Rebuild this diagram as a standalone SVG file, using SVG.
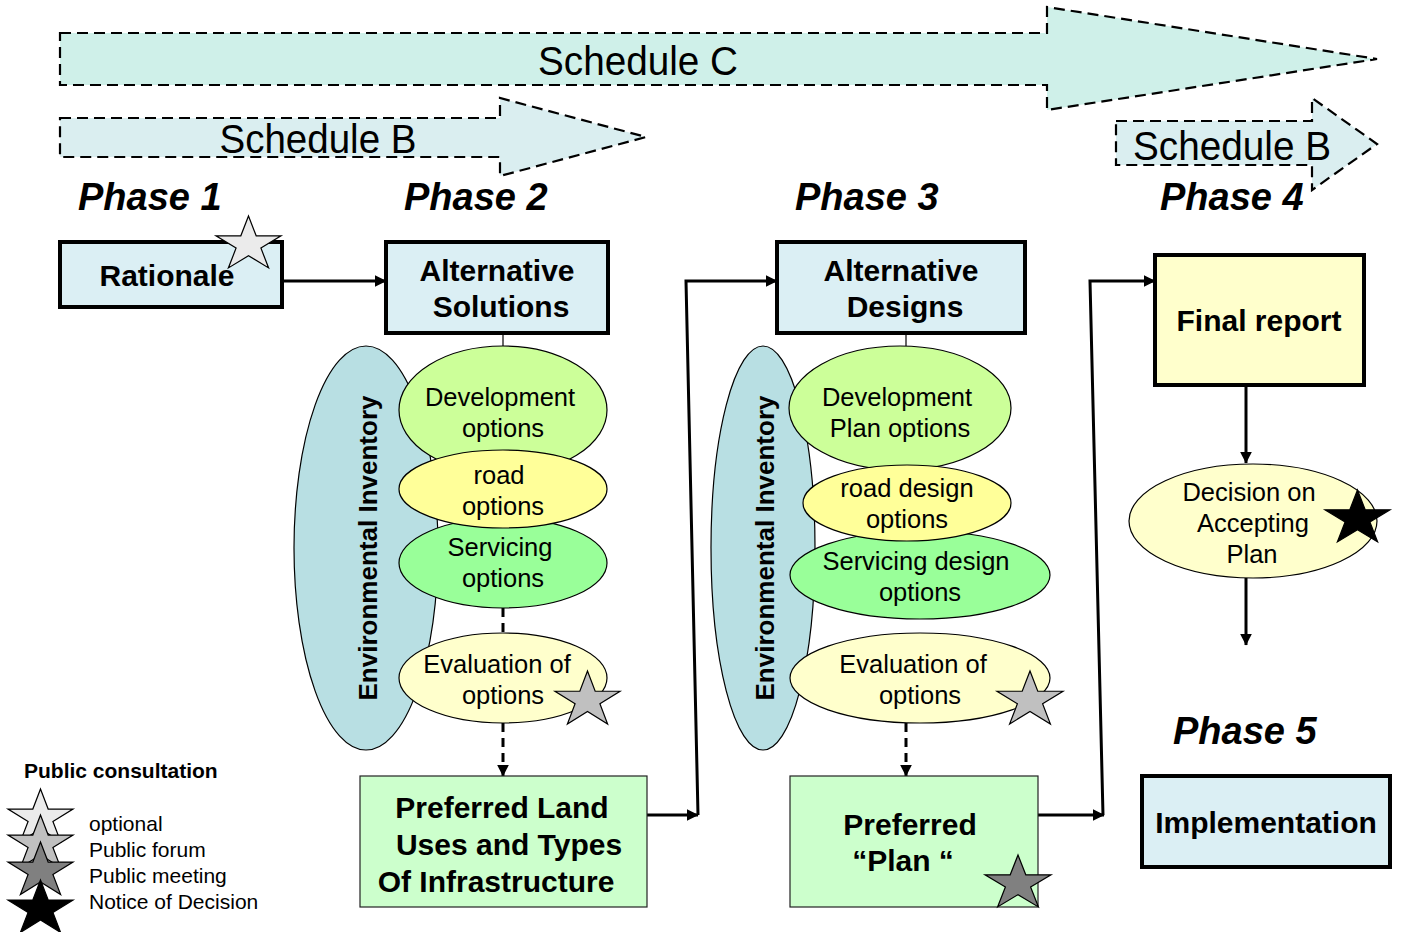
<svg xmlns="http://www.w3.org/2000/svg" xmlns:xlink="http://www.w3.org/1999/xlink" width="1402" height="932" viewBox="0 0 1402 932">
  <style>
    text { font-family: "Liberation Sans", Arial, sans-serif; fill: #000; }
    .sched { fill: none; stroke: #000; stroke-width: 2.2; stroke-dasharray: 11 6; }
    .schedtxt { font-size: 41px; text-anchor: middle; }
    .phase { font-size: 38px; font-weight: bold; font-style: italic; }
    .box { stroke: #000; stroke-width: 4; }
    .thinbox { stroke: #222; stroke-width: 1.2; }
    .blue { fill: #dbeff4; }
    .green { fill: #ccffcc; }
    .cream { fill: #ffffcc; }
    .btxt { font-size: 30px; font-weight: bold; text-anchor: middle; }
    .etxt { font-size: 25.5px; text-anchor: middle; }
    .oval { stroke: #000; stroke-width: 1.2; }
    .env { fill: #b8dfe3; }
    .dev { fill: #ccff99; }
    .road { fill: #ffff99; }
    .serv { fill: #99ff99; }
    .evaltxt { fill: #ffffcc; }
    .envtxt { font-size: 26px; font-weight: bold; text-anchor: middle; }
    .conn { fill: none; stroke: #000; stroke-width: 3; }
    .thin { fill: none; stroke: #000; stroke-width: 1.2; }
    .dash { fill: none; stroke: #000; stroke-width: 3; stroke-dasharray: 9 6; }
    .star { stroke: #000; stroke-width: 1.2; }
    .legtxt { font-size: 21px; }
  </style>
  <defs>
    <path id="star" vector-effect="non-scaling-stroke" d="M0,-1 L0.2245,-0.309 L0.951,-0.309 L0.363,0.118 L0.588,0.809 L0,0.382 L-0.588,0.809 L-0.363,0.118 L-0.951,-0.309 L-0.2245,-0.309 Z"/>
    <marker id="ah" viewBox="0 0 10 10" refX="9.5" refY="5" markerWidth="4" markerHeight="4" orient="auto">
      <path d="M0,0 L10,5 L0,10 Z" fill="#000"/>
    </marker>
  </defs>

  <!-- schedule bands -->
  <g id="schedule-c">
    <path d="M60,33 L1047,33 L1047,7 L1377,59 L1047,110 L1047,85 L60,85 Z" fill="#cff0e9"/>
    <path class="sched" d="M60,33 L1047,33 L1047,7 L1377,59 L1047,110 L1047,85 L60,85 Z"/>
    <text class="schedtxt" x="638" y="75" textLength="200" lengthAdjust="spacingAndGlyphs">Schedule C</text>
  </g>
  <g id="schedule-b-left">
    <path d="M60,118 L500,118 L500,98 L646,137 L500,176 L500,157 L60,157 Z" fill="#daeef0"/>
    <path class="sched" d="M60,118 L500,118 L500,98 L646,137 L500,176 L500,157 L60,157 Z"/>
    <text class="schedtxt" x="318" y="153" textLength="197" lengthAdjust="spacingAndGlyphs">Schedule B</text>
  </g>
  <g id="schedule-b-right">
    <path d="M1116,121 L1312,121 L1312,98 L1377,144 L1312,190 L1312,165 L1116,165 Z" fill="#daeef0"/>
    <path class="sched" d="M1116,121 L1312,121 L1312,98 L1377,144 L1312,190 L1312,165 L1116,165 Z"/>
    <text class="schedtxt" x="1232" y="160" textLength="198" lengthAdjust="spacingAndGlyphs">Schedule B</text>
  </g>

  <!-- phase headings -->
  <g id="phases">
    <text class="phase" x="78" y="210">Phase 1</text>
    <text class="phase" x="404" y="210">Phase 2</text>
    <text class="phase" x="795" y="210">Phase 3</text>
    <text class="phase" x="1160" y="210">Phase 4</text>
    <text class="phase" x="1173" y="744">Phase 5</text>
  </g>

  <!-- connectors -->
  <g id="connectors">
    <path class="conn" d="M282,281 L386,281" marker-end="url(#ah)"/>
    <path class="thin" d="M503,333 L503,347"/>
    <path class="dash" d="M503,608 L503,633"/>
    <path class="dash" d="M503,723 L503,776" marker-end="url(#ah)"/>
    <path class="conn" d="M647,815 L698,815" marker-end="url(#ah)"/>
    <path class="conn" d="M698,815 L686,281 L777,281" marker-end="url(#ah)"/>
    <path class="thin" d="M906,333 L906,346"/>
    <path class="dash" d="M906,723 L906,776" marker-end="url(#ah)"/>
    <path class="conn" d="M1038,815 L1104,815" marker-end="url(#ah)"/>
    <path class="conn" d="M1103,815 L1090,281 L1155,281" marker-end="url(#ah)"/>
    <path class="conn" d="M1246,385 L1246,463" marker-end="url(#ah)"/>
    <path class="conn" d="M1246,578 L1246,645" marker-end="url(#ah)"/>
  </g>

  <!-- phase 1 -->
  <g id="rationale">
    <rect class="box blue" x="60" y="242" width="222" height="65"/>
    <text class="btxt" x="167" y="286">Rationale</text>
    <use href="#star" class="star" fill="#ebebeb" transform="translate(248.5,244.7) scale(34.2,28.7)"/>
  </g>

  <!-- phase 2 -->
  <g id="alternative-solutions">
    <rect class="box blue" x="386" y="242" width="222" height="91"/>
    <text class="btxt" x="497" y="281">Alternative</text>
    <text class="btxt" x="501" y="317">Solutions</text>
  </g>
  <g id="env-inventory-2">
    <ellipse class="oval env" cx="366" cy="548" rx="72" ry="202"/>
    <text class="envtxt" transform="translate(377,548) rotate(-90)" textLength="305" lengthAdjust="spacingAndGlyphs">Environmental Inventory</text>
  </g>
  <g id="development-options">
    <ellipse class="oval dev" cx="503" cy="410" rx="104" ry="64"/>
    <text class="etxt" x="500" y="406">Development</text>
    <text class="etxt" x="503" y="437">options</text>
  </g>
  <g id="servicing-options">
    <ellipse class="oval serv" cx="503" cy="563" rx="104" ry="45"/>
    <text class="etxt" x="500" y="556">Servicing</text>
    <text class="etxt" x="503" y="587">options</text>
  </g>
  <g id="road-options">
    <ellipse class="oval road" cx="503" cy="489" rx="104" ry="39"/>
    <text class="etxt" x="499" y="484">road</text>
    <text class="etxt" x="503" y="515">options</text>
  </g>
  <g id="evaluation-2">
    <ellipse class="oval evaltxt" cx="503" cy="678" rx="104" ry="45"/>
    <text class="etxt" x="497" y="673">Evaluation of</text>
    <text class="etxt" x="503" y="704">options</text>
    <use href="#star" class="star" fill="#c0c0c0" transform="translate(587.5,700.3) scale(34.2,29.3)"/>
  </g>
  <g id="preferred-land-uses">
    <rect class="thinbox green" x="360" y="776" width="287" height="131"/>
    <text class="btxt" x="502" y="818">Preferred Land</text>
    <text class="btxt" x="509" y="855">Uses and Types</text>
    <text class="btxt" x="496" y="892">Of Infrastructure</text>
  </g>

  <!-- phase 3 -->
  <g id="alternative-designs">
    <rect class="box blue" x="777" y="242" width="248" height="91"/>
    <text class="btxt" x="901" y="281">Alternative</text>
    <text class="btxt" x="905" y="317">Designs</text>
  </g>
  <g id="env-inventory-3">
    <ellipse class="oval env" cx="763" cy="548" rx="52" ry="202"/>
    <text class="envtxt" transform="translate(774,548) rotate(-90)" textLength="305" lengthAdjust="spacingAndGlyphs">Environmental Inventory</text>
  </g>
  <g id="development-plan-options">
    <ellipse class="oval dev" cx="900" cy="408" rx="111" ry="62"/>
    <text class="etxt" x="897" y="406">Development</text>
    <text class="etxt" x="900" y="437">Plan options</text>
  </g>
  <g id="servicing-design-options">
    <ellipse class="oval serv" cx="920" cy="575" rx="130" ry="44"/>
    <text class="etxt" x="916" y="570">Servicing design</text>
    <text class="etxt" x="920" y="601">options</text>
  </g>
  <g id="road-design-options">
    <ellipse class="oval road" cx="907" cy="503" rx="104" ry="38"/>
    <text class="etxt" x="907" y="497">road design</text>
    <text class="etxt" x="907" y="528">options</text>
  </g>
  <g id="evaluation-3">
    <ellipse class="oval evaltxt" cx="920" cy="678" rx="130" ry="45"/>
    <text class="etxt" x="913" y="673">Evaluation of</text>
    <text class="etxt" x="920" y="704">options</text>
    <use href="#star" class="star" fill="#c0c0c0" transform="translate(1030,700.3) scale(34.7,29.3)"/>
  </g>
  <g id="preferred-plan">
    <rect class="thinbox green" x="790" y="776" width="248" height="131"/>
    <text class="btxt" x="910" y="835">Preferred</text>
    <text class="btxt" x="903" y="871">“Plan “</text>
    <use href="#star" class="star" fill="#808080" transform="translate(1018,883.7) scale(34.7,28.7)"/>
  </g>

  <!-- phase 4 -->
  <g id="final-report">
    <rect class="box cream" x="1155" y="255" width="209" height="130"/>
    <text class="btxt" x="1259" y="331">Final report</text>
  </g>
  <g id="decision">
    <ellipse class="oval evaltxt" cx="1253" cy="521" rx="124" ry="57"/>
    <text class="etxt" x="1249" y="501">Decision on</text>
    <text class="etxt" x="1253" y="532">Accepting</text>
    <text class="etxt" x="1252" y="563">Plan</text>
    <use href="#star" class="star" fill="#000" transform="translate(1357.5,518.7) scale(34.2,28.7)"/>
  </g>

  <!-- phase 5 -->
  <g id="implementation">
    <rect class="box blue" x="1142" y="776" width="248" height="91"/>
    <text class="btxt" x="1266" y="833">Implementation</text>
  </g>

  <!-- legend -->
  <g id="legend">
    <text x="24" y="778" style="font-size:21px;font-weight:bold">Public consultation</text>
    <use href="#star" class="star" fill="#ebebeb" transform="translate(40.5,818) scale(34.2,29)"/>
    <use href="#star" class="star" fill="#c0c0c0" transform="translate(40.5,844) scale(34.2,29)"/>
    <use href="#star" class="star" fill="#808080" transform="translate(40.5,871) scale(34.2,29)"/>
    <use href="#star" class="star" fill="#000" transform="translate(40.5,909) scale(34.2,29)"/>
    <text class="legtxt" x="89" y="831">optional</text>
    <text class="legtxt" x="89" y="857">Public forum</text>
    <text class="legtxt" x="89" y="883">Public meeting</text>
    <text class="legtxt" x="89" y="909">Notice of Decision</text>
  </g>
</svg>
